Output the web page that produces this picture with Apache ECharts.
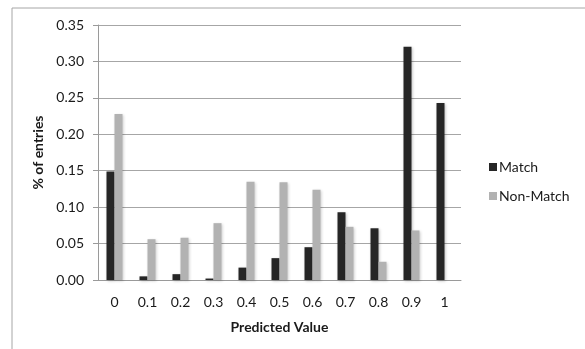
<!DOCTYPE html>
<html><head><meta charset="utf-8">
<script src="https://cdn.jsdelivr.net/npm/echarts@6/dist/echarts.min.js"></script>
<style>html,body{margin:0;padding:0;background:#fff}#c{width:585px;height:349px}</style>
</head><body><div id="c"></div>
<script>
const categories = ['0','0.1','0.2','0.3','0.4','0.5','0.6','0.7','0.8','0.9','1'];
const matchValues = [0.149,0.005,0.008,0.002,0.017,0.030,0.045,0.093,0.071,0.320,0.243];
const nonMatchValues = [0.228,0.056,0.058,0.078,0.135,0.134,0.124,0.073,0.025,0.068,0];
const yTicks = {min:0, max:0.35, interval:0.05};
const fontFam = 'Lato, "Open Sans", sans-serif';
const chart = echarts.init(document.getElementById('c'), null, {renderer:'canvas'});
chart.setOption({
  animation:false,
  graphic:[{type:'rect', shape:{x:12,y:8,width:600,height:400}, style:{fill:'none', stroke:'#a6a6a6', lineWidth:1}, silent:true}],
  grid:{left:98, right:124, top:25, bottom:69},
  legend:{
    orient:'vertical', left:484, top:155, itemWidth:8, itemHeight:8, itemGap:15,
    icon:'rect',
    textStyle:{fontFamily:fontFam, fontSize:14, color:'#1a1a1a', padding:[0,0,0,-3]},
    data:['Match','Non-Match']
  },
  xAxis:{
    type:'category', data:categories,
    name:'Predicted Value', nameLocation:'middle', nameGap:40,
    nameTextStyle:{fontFamily:fontFam, fontSize:14, fontWeight:'bold', color:'#1a1a1a'},
    axisLine:{lineStyle:{color:'#9a9a9a', width:1}},
    axisTick:{show:false},
    axisLabel:{fontFamily:fontFam, fontSize:14, color:'#1a1a1a', margin:15}
  },
  yAxis:{
    type:'value', min:yTicks.min, max:yTicks.max, interval:yTicks.interval,
    name:'% of entries', nameLocation:'middle', nameGap:47, nameRotate:90,
    nameTextStyle:{fontFamily:fontFam, fontSize:14, fontWeight:'bold', color:'#1a1a1a'},
    axisLine:{show:true, lineStyle:{color:'#9a9a9a', width:1}},
    axisTick:{show:true, length:5, lineStyle:{color:'#9a9a9a'}},
    splitLine:{lineStyle:{color:'#a6a6a6', width:1}},
    axisLabel:{fontFamily:fontFam, fontSize:14, color:'#1a1a1a', margin:14, formatter:v=>v.toFixed(2)}
  },
  series:[
    {name:'Match', type:'bar', data:matchValues, barWidth:8, barGap:'0%',
     itemStyle:{color:'#262626', shadowColor:'rgba(0,0,0,0.25)', shadowBlur:3, shadowOffsetX:1, shadowOffsetY:1}},
    {name:'Non-Match', type:'bar', data:nonMatchValues, barWidth:8, barGap:'0%',
     itemStyle:{color:'#b2b2b2', shadowColor:'rgba(0,0,0,0.2)', shadowBlur:3, shadowOffsetX:1, shadowOffsetY:1}}
  ]
});
</script></body></html>
